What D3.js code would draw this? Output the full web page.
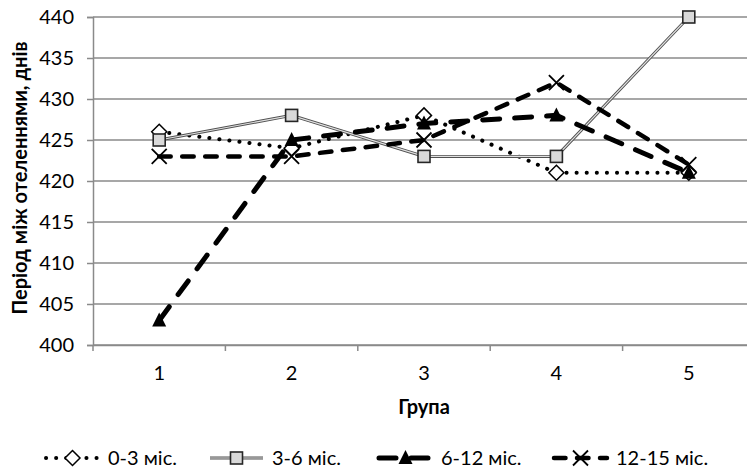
<!DOCTYPE html>
<html>
<head>
<meta charset="utf-8">
<script src="https://cdn.jsdelivr.net/npm/d3@7"></script>
<style>
  body { margin: 0; background: #fff; }
  text { font-family: Lato, "Open Sans", sans-serif; fill: #000; }
</style>
</head>
<body>
<div id="chart"></div>
<script>
// values
const groups = ["1", "2", "3", "4", "5"];
const yTicks = [400, 405, 410, 415, 420, 425, 430, 435, 440];
const s03 = [426, 424, 428, 421, 421];
const s36 = [425, 428, 423, 423, 440];
const s612 = [403, 425, 427, 428, 421];
const s1215 = [423, 423, 425, 432, 422];
const seriesNames = ["0-3 міс.", "3-6 міс.", "6-12 міс.", "12-15 міс."];

const width = 747, height = 468;
const plotLeft = 93, plotRight = 755, plotTop = 17, plotBottom = 345;

const svg = d3.select("#chart")
    .append("svg")
    .attr("width", width)
    .attr("height", height);

const x = d3.scaleBand().domain(groups).range([plotLeft, plotRight]);
const y = d3.scaleLinear().domain([400, 440]).range([plotBottom, plotTop]);

// gridlines
svg.append("g")
    .selectAll("line")
    .data(yTicks)
    .enter()
    .append("line")
    .attr("x1", plotLeft)
    .attr("x2", plotRight)
    .attr("y1", d => y(d))
    .attr("y2", d => y(d))
    .attr("stroke", "#8a8a8a")
    .attr("stroke-width", 1.5);

// y axis
let yAxis = svg.append("g")
    .attr("transform", `translate(${plotLeft},0)`)
    .call(d3.axisLeft(y).tickValues(yTicks).tickSize(6).tickPadding(13));
yAxis.select(".domain").attr("stroke", "#8a8a8a").attr("stroke-width", 1.5);
yAxis.selectAll(".tick line").attr("stroke", "#8a8a8a").attr("stroke-width", 1.5);
yAxis.selectAll("text").style("font-size", "20px").attr("font-family", null);

// x axis, ticks between categories
let xAxis = svg.append("g")
    .attr("transform", `translate(0,${plotBottom})`)
    .call(d3.axisBottom(x).tickSize(0).tickPadding(21));
xAxis.select(".domain").attr("stroke", "#8a8a8a").attr("stroke-width", 1.5);
xAxis.selectAll("text").style("font-size", "20px").attr("font-family", null);
xAxis.selectAll(".sep")
    .data(groups)
    .enter()
    .append("line")
    .attr("x1", d => x(d))
    .attr("x2", d => x(d))
    .attr("y1", 0)
    .attr("y2", 6)
    .attr("stroke", "#8a8a8a")
    .attr("stroke-width", 1.5);

// axis titles
svg.append("text")
    .attr("x", (plotLeft + plotRight) / 2)
    .attr("y", 414)
    .attr("text-anchor", "middle")
    .style("font-size", "20px")
    .style("font-weight", "bold")
    .text("Група");

svg.append("text")
    .attr("transform", `translate(27,${(plotTop + plotBottom) / 2 - 3}) rotate(-90)`)
    .attr("text-anchor", "middle")
    .style("font-size", "20px")
    .style("font-weight", "bold")
    .text("Період між отеленнями, днів");

const cx = d => x(d) + x.bandwidth() / 2;

// marker drawing
function drawMarker(g, type, px, py) {
    if (type === "diamond") {
        g.append("path")
            .attr("transform", `translate(${px},${py})`)
            .attr("d", "M0,-7.5L7.5,0L0,7.5L-7.5,0Z")
            .attr("fill", "#fff")
            .attr("stroke", "#000")
            .attr("stroke-width", 1.5);
    } else if (type === "square") {
        g.append("rect")
            .attr("x", px - 6).attr("y", py - 6)
            .attr("width", 12).attr("height", 12)
            .attr("fill", "#d9d9d9")
            .attr("stroke", "#262626")
            .attr("stroke-width", 1.6);
    } else if (type === "triangle") {
        g.append("path")
            .attr("transform", `translate(${px},${py})`)
            .attr("d", "M0,-8L7,6L-7,6Z")
            .attr("fill", "#000");
    } else {
        g.append("path")
            .attr("transform", `translate(${px},${py})`)
            .attr("d", "M-7.5,-7.5L7.5,7.5M7.5,-7.5L-7.5,7.5")
            .attr("stroke", "#000")
            .attr("stroke-width", 1.8);
    }
}

const series = [
    { name: seriesNames[0], values: s03, marker: "diamond", width: 4, dash: "0.1,10", cap: "round" },
    { name: seriesNames[1], values: s36, marker: "square", width: 3, dash: null, cap: "butt" },
    { name: seriesNames[2], values: s612, marker: "triangle", width: 5, dash: "17,15", cap: "round" },
    { name: seriesNames[3], values: s1215, marker: "cross", width: 4.5, dash: "11.5,11.5", cap: "round" }
];

const line = d3.line().x((d, i) => cx(groups[i])).y(d => y(d));

function styleLine(p, s) {
    p.attr("fill", "none")
        .attr("stroke", s.marker === "square" ? "#505050" : "#000")
        .attr("stroke-width", s.width)
        .attr("stroke-linecap", s.cap)
        .attr("stroke-dasharray", s.dash);
}

const plot = svg.append("g");
series.forEach(s => {
    let p = plot.append("path").attr("d", line(s.values));
    styleLine(p, s);
    if (s.marker === "square") {
        plot.append("path").attr("d", line(s.values))
            .attr("fill", "none").attr("stroke", "#e0e0e0").attr("stroke-width", 1.1);
    }
});
series.forEach(s => {
    s.values.forEach((v, i) => drawMarker(plot, s.marker, cx(groups[i]), y(v)));
});

// legend
const legendX = [44, 208, 377, 552];
const legendY = 458;
series.forEach((s, i) => {
    let g = svg.append("g");
    let seg = `M${legendX[i] + 2},${legendY}H${legendX[i] + 55}`;
    let p = g.append("path").attr("d", seg);
    styleLine(p, s);
    if (s.marker === "square") {
        g.append("path").attr("d", seg)
            .attr("stroke", "#e0e0e0").attr("stroke-width", 1.1);
    }
    drawMarker(g, s.marker, legendX[i] + 28.5, legendY);
    g.append("text")
        .attr("x", legendX[i] + 64)
        .attr("y", legendY + 7)
        .style("font-size", "20px")
        .text(s.name);
});
</script>
</body>
</html>
